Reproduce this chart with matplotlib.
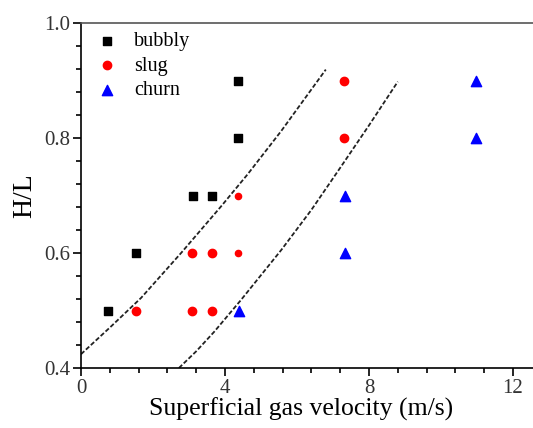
import matplotlib
matplotlib.use("Agg")
import matplotlib.pyplot as plt
from matplotlib.ticker import MultipleLocator, FormatStrFormatter

plt.rcParams['font.family'] = ['Liberation Serif', 'DejaVu Serif']

bubbly_x = [0.74, 1.53, 3.10, 3.63, 4.36, 4.36]
bubbly_y = [0.5, 0.6, 0.7, 0.7, 0.9, 0.8]

slug_x = [1.53, 3.09, 3.63, 3.09, 3.63, 7.31, 7.31]
slug_y = [0.5, 0.5, 0.5, 0.6, 0.6, 0.9, 0.8]
slug_small_x = [4.36, 4.36]
slug_small_y = [0.6, 0.7]

churn_x = [4.38, 7.33, 7.33, 10.97, 10.97]
churn_y = [0.5, 0.7, 0.6, 0.9, 0.8]

line1_x = [0.0, 0.83, 1.67, 2.78, 3.89, 4.63, 5.56, 6.80]
line1_y = [0.424, 0.472, 0.522, 0.600, 0.681, 0.737, 0.812, 0.919]
line2_x = [2.72, 3.2, 3.70, 4.44, 5.56, 6.4, 7.22, 8.0, 8.8]
line2_y = [0.400, 0.429, 0.463, 0.518, 0.605, 0.675, 0.750, 0.822, 0.898]

fig = plt.figure(figsize=(5.33, 4.28), dpi=100)
ax = fig.add_axes([81/533, 60/428, 468/533, 345/428])

ax.plot(line1_x, line1_y, color='#222222', linestyle=(0, (2.5, 1.2)), linewidth=1.3)
ax.plot(line2_x, line2_y, color='#222222', linestyle=(0, (2.5, 1.2)), linewidth=1.3)

ax.scatter(bubbly_x, bubbly_y, marker='s', s=32, color='black', label='bubbly', zorder=3)
ax.scatter(slug_x, slug_y, marker='o', s=36, color='red', label='slug', zorder=3)
ax.scatter(slug_small_x, slug_small_y, marker='o', s=20, color='red', zorder=3)
ax.scatter(churn_x, churn_y, marker='^', s=55, color='blue', label='churn', zorder=3)

ax.set_xlim(0, 13)
ax.set_ylim(0.4, 1.0)
ax.xaxis.set_major_locator(MultipleLocator(4))
ax.xaxis.set_minor_locator(MultipleLocator(0.8))
ax.yaxis.set_major_locator(MultipleLocator(0.2))
ax.yaxis.set_minor_locator(MultipleLocator(0.04))
ax.yaxis.set_major_formatter(FormatStrFormatter('%.1f'))
ax.xaxis.set_major_formatter(FormatStrFormatter('%d'))

ax.tick_params(axis='both', which='major', direction='out', length=6, width=1.2,
               labelsize=15, labelcolor='#333333', pad=2)
ax.tick_params(axis='both', which='minor', direction='out', length=3.5, width=1.2)
ax.spines['right'].set_visible(False)
for s in ['left', 'bottom', 'top']:
    ax.spines[s].set_linewidth(1.2)
ax.spines['top'].set_color('#555555')

ax.set_xlabel('Superficial gas velocity (m/s)', fontsize=18.5)
ax.xaxis.set_label_coords(0.47, -0.085)
ax.set_ylabel('H/L', fontsize=20, labelpad=5)

ax.legend(loc='upper left', frameon=False, fontsize=14.5, handletextpad=0.5,
          borderaxespad=0.05, labelspacing=0.27, handlelength=1.7,
          bbox_to_anchor=(0.0, 1.0))

fig.savefig('out.png', dpi=100)
